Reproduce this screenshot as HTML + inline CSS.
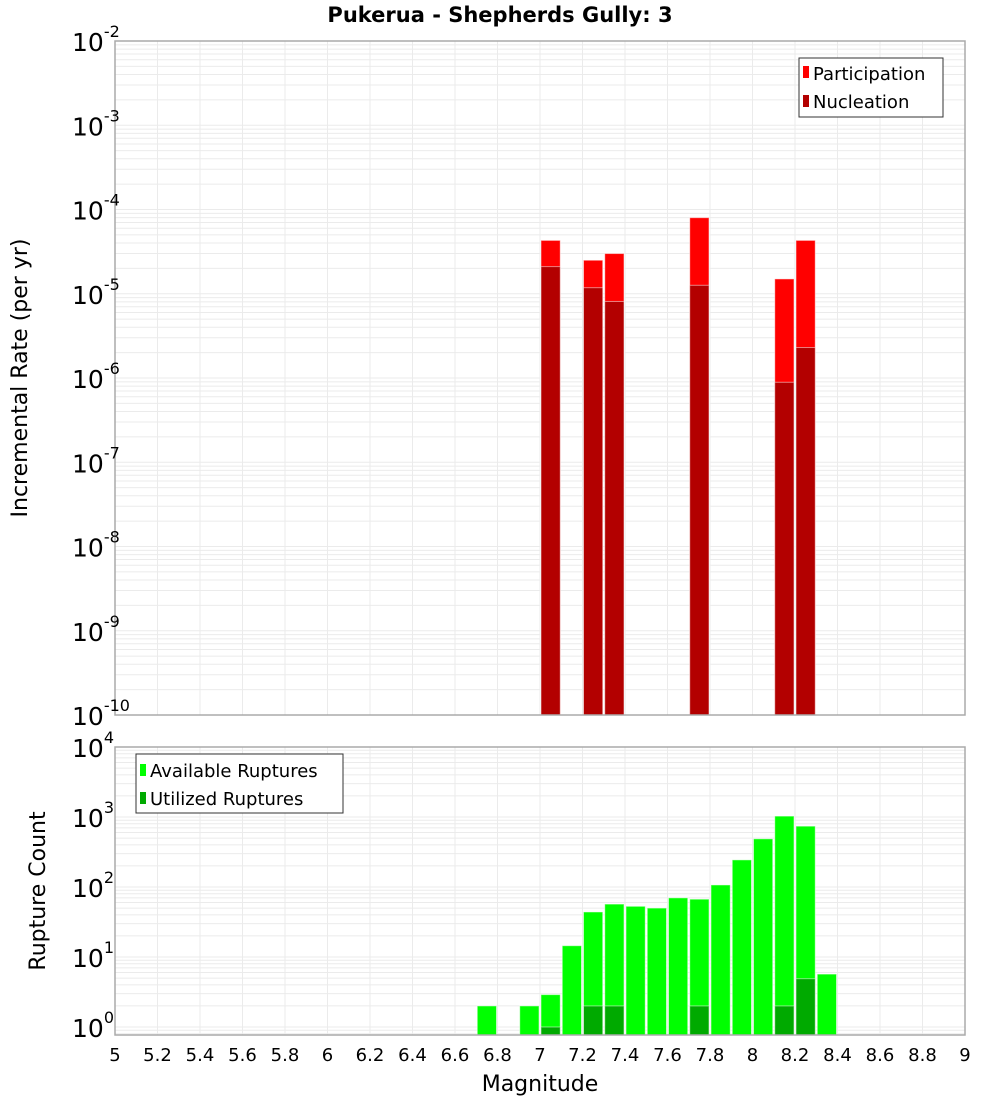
<!DOCTYPE html>
<html><head><meta charset="utf-8">
<style>
html,body{margin:0;padding:0;background:#fff;}
svg{display:block;font-family:"DejaVu Sans","Liberation Sans",sans-serif;}
</style></head>
<body>
<svg id="chart" width="1000" height="1100" viewBox="0 0 1000 1100" xmlns="http://www.w3.org/2000/svg">
<text x="500" y="22" text-anchor="middle" font-size="21" font-weight="bold">Pukerua - Shepherds Gully: 3</text>
<g id="topPanel"></g>
<g id="botPanel"></g>
<text transform="translate(27,378) rotate(-90)" text-anchor="middle" font-size="22">Incremental Rate (per yr)</text>
<text transform="translate(45,891) rotate(-90)" text-anchor="middle" font-size="22">Rupture Count</text>
<text x="540" y="1091" text-anchor="middle" font-size="22">Magnitude</text>
<g>
<rect x="799" y="58" width="144" height="59" fill="#fff" stroke="#333" stroke-width="1"/>
<rect x="803" y="66" width="6" height="12" fill="#ff0000"/>
<text x="813" y="80" font-size="18">Participation</text>
<rect x="803" y="95" width="6" height="12" fill="#b30000"/>
<text x="813" y="108" font-size="18">Nucleation</text>
</g>
<g>
<rect x="136" y="754" width="207" height="59" fill="#fff" stroke="#333" stroke-width="1"/>
<rect x="140" y="764" width="6" height="12" fill="#00ff00"/>
<text x="150" y="777" font-size="18">Available Ruptures</text>
<rect x="140" y="792" width="6" height="12" fill="#00aa00"/>
<text x="150" y="805" font-size="18">Utilized Ruptures</text>
</g>
</svg>
<script>
// Top panel data
const rateMags = [7.05, 7.25, 7.35, 7.75, 8.15, 8.25];
const participation = [4.3e-5, 2.5e-5, 3.0e-5, 8.0e-5, 1.5e-5, 4.3e-5];
const nucleation = [2.1e-5, 1.18e-5, 8.1e-6, 1.26e-5, 8.9e-7, 2.3e-6];
// Bottom panel data
const countMags = [6.75, 6.95, 7.05, 7.15, 7.25, 7.35, 7.45, 7.55, 7.65, 7.75, 7.85, 7.95, 8.05, 8.15, 8.25, 8.35];
const available = [2, 2, 2.9, 14.5, 44, 57, 53, 50, 70, 67, 107, 244, 488, 1030, 740, 5.7];
const utilizedMags = [7.05, 7.25, 7.35, 7.75, 8.15, 8.25];
const utilized = [1, 2, 2, 2, 2, 4.9];
const xTicks = [5,5.2,5.4,5.6,5.8,6,6.2,6.4,6.6,6.8,7,7.2,7.4,7.6,7.8,8,8.2,8.4,8.6,8.8,9];
const rateExps = [-10,-9,-8,-7,-6,-5,-4,-3,-2];
const countExps = [0,1,2,3,4];

const NS = "http://www.w3.org/2000/svg";
const X0 = 115, X1 = 965, BIN = 0.1;
const xs = m => X0 + (m - 5) / 4 * (X1 - X0);
const TOP_Y0 = 41, TOP_Y1 = 715;
const yRate = v => TOP_Y1 - (Math.log10(v) + 10) * ((TOP_Y1 - TOP_Y0) / 8);
const BOT_Y0 = 747, BOT_Y1 = 1035, BOT_ONE = 1027;
const yCount = v => BOT_ONE - Math.log10(v) * 70;

function mk(tag, attrs, parent) {
  const e = document.createElementNS(NS, tag);
  for (const k in attrs) e.setAttribute(k, attrs[k]);
  parent.appendChild(e);
  return e;
}
function grid(g, yTop, yBot, yFn, decLo, decHi) {
  for (let d = decLo; d < decHi; d++) {
    for (let k = 1; k <= 9; k++) {
      const y = yFn(k * Math.pow(10, d));
      if (y < yTop || y > yBot) continue;
      const l = mk('line', {x1: X0, x2: X1, y1: y, y2: y, stroke: '#ebebeb', 'stroke-width': 1}, g);
      
      
    }
  }
  xTicks.forEach(t => {
    const l = mk('line', {x1: xs(t), x2: xs(t), y1: yTop, y2: yBot, stroke: '#ebebeb', 'stroke-width': 1}, g);
    
    
  });
}
function bar(g, m, v, yFn, yBase, color, name) {
  const x = xs(m - BIN / 2) + 1, w = xs(m + BIN / 2) - xs(m - BIN / 2) - 2;
  const y = yFn(v);
  const r = mk('rect', {x: x, y: y, width: w, height: yBase - y, fill: color, stroke: 'rgba(255,255,255,0.5)', 'stroke-width': 1}, g);
  
  
}
function ylabel(g, y, exp, name) {
  const t = mk('text', {x: 72, y: y + 10, 'font-size': 25}, g);
  
  
  t.textContent = '10';
  const s = mk('tspan', {dy: -14, 'font-size': 16}, t);
  s.textContent = String(exp);
}

const topPanel = document.getElementById('topPanel');
grid(topPanel, TOP_Y0, TOP_Y1, yRate, -10, -2);
rateMags.forEach((m, i) => bar(topPanel, m, participation[i], yRate, TOP_Y1, '#ff0000', 'participation-bar'));
rateMags.forEach((m, i) => bar(topPanel, m, nucleation[i], yRate, TOP_Y1, '#b30000', 'nucleation-bar'));
mk('rect', {x: X0, y: TOP_Y0, width: X1 - X0, height: TOP_Y1 - TOP_Y0, fill: 'none', stroke: '#aaa', 'stroke-width': 1.5}, topPanel);
rateExps.forEach(e => ylabel(topPanel, yRate(Math.pow(10, e)), e, 'y-tick-label-rate'));

const botPanel = document.getElementById('botPanel');
grid(botPanel, BOT_Y0, BOT_Y1, yCount, -1, 4);
countMags.forEach((m, i) => bar(botPanel, m, available[i], yCount, BOT_Y1, '#00ff00', 'available-bar'));
utilizedMags.forEach((m, i) => bar(botPanel, m, utilized[i], yCount, BOT_Y1, '#00aa00', 'utilized-bar'));
mk('rect', {x: X0, y: BOT_Y0, width: X1 - X0, height: BOT_Y1 - BOT_Y0, fill: 'none', stroke: '#aaa', 'stroke-width': 1.5}, botPanel);
countExps.forEach(e => ylabel(botPanel, yCount(Math.pow(10, e)), e, 'y-tick-label-count'));
xTicks.forEach(t => {
  const tx = mk('text', {x: xs(t), y: 1061, 'text-anchor': 'middle', 'font-size': 18}, botPanel);
  
  
  tx.textContent = String(t);
});
</script>
</body></html>
